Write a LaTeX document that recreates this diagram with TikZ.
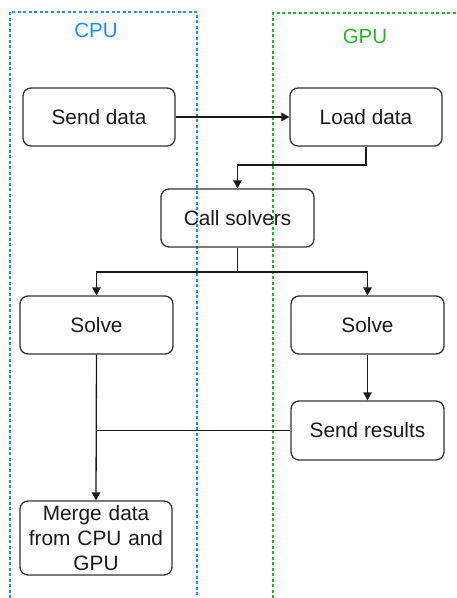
\documentclass[tikz,border=0pt]{standalone}
\usepackage{fontspec}
\setmainfont{Liberation Sans}
\usetikzlibrary{arrows.meta}
\definecolor{cpublue}{RGB}{30,140,250}
\definecolor{gpugreen}{RGB}{40,180,40}
\definecolor{boxgray}{RGB}{50,50,50}
\begin{document}
\begin{tikzpicture}[x=1pt,y=-1pt,
  stepbox/.style={draw=boxgray,line width=1.3pt,rounded corners=8pt,
    minimum width=152pt,minimum height=58pt,inner sep=0pt,
    font=\fontsize{20.8}{25}\selectfont,text=black!90,align=center},
  flow/.style={draw=black!90,line width=1.3pt,-{Triangle[length=8pt,width=8.5pt]}},
  plain/.style={draw=black!90,line width=1.3pt},
  lane/.style={line width=1.1pt,dash pattern=on 3pt off 2.5pt},
  lanelabel/.style={font=\fontsize{20.5}{24}\selectfont}]
\useasboundingbox (0,0) rectangle (456,598);
% swimlanes
\draw[lane,cpublue] (10,598) -- (10,12) -- (197,12) -- (197,598);
\draw[lane,gpugreen] (273,598) -- (273,13) -- (456,13);
\node[lanelabel,text=cpublue] (cpu) at (96,30) {CPU};
\node[lanelabel,text=gpugreen] (gpu) at (365,36) {GPU};
% steps
\node[stepbox] (send) at (99,117) {Send data};
\node[stepbox] (load) at (366,117) {Load data};
\node[stepbox,minimum width=153pt] (call) at (237.5,218) {Call solvers};
\node[stepbox,minimum width=153pt] (solveA) at (96.5,325) {Solve};
\node[stepbox,minimum width=153pt] (solveB) at (367.5,325) {Solve};
\node[stepbox,minimum width=153pt,minimum height=59pt] (results) at (367.5,430.5) {Send results};
\node[stepbox,minimum height=74pt,text width=150pt,
  font=\fontsize{20.8}{25}\selectfont] (merge) at (96,538) {Merge data\\from CPU and\\GPU};
% connectors
\coordinate (j1) at (366,165);
\coordinate (j2) at (237.5,272);
\coordinate (j3) at (96.5,430.5);
\draw[flow] (send) -- (load);
\draw[flow] (load.south) -- (j1) -| (call.north);
\draw[plain] (call.south) -- (j2);
\draw[flow] (j2) -| (solveA.north);
\draw[flow] (j2) -| (solveB.north);
\draw[flow] (solveB) -- (results);
\draw[flow] (solveA.south) -- (merge.north);
\draw[plain] (results.west) -- (j3);
\end{tikzpicture}
\end{document}
